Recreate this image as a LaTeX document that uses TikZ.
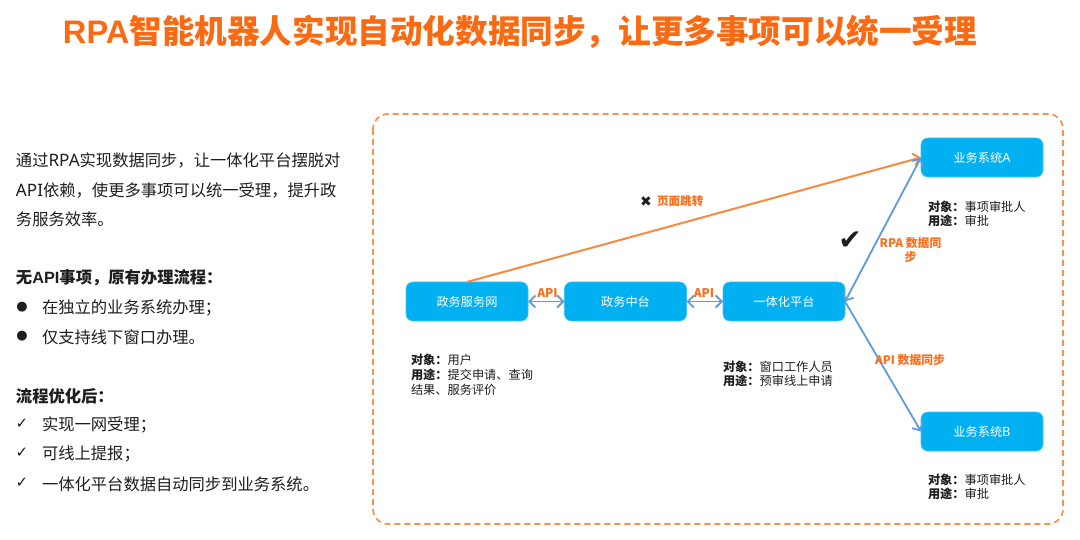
\documentclass[tikz,border=0pt]{standalone}
\usepackage{fontspec}
\setmainfont{Noto Sans CJK SC}
\newfontfamily\symfont{DejaVu Sans}
\newfontfamily\arialfont{Liberation Sans}
\newfontfamily\notolat[Scale=1.05]{Noto Sans}
\newcommand{\lat}[1]{{\notolat #1}}
\usetikzlibrary{arrows.meta}
\definecolor{titleor}{HTML}{FA6A12}
\definecolor{lblor}{HTML}{FA6F1E}
\definecolor{lineor}{HTML}{F58A42}
\definecolor{frameor}{HTML}{F7924E}
\definecolor{boxblue}{HTML}{00B0F0}
\definecolor{lineblue}{HTML}{5F9BD8}
\definecolor{ink}{HTML}{1E1E1E}
\tikzset{
  x=1pt,y=-1pt,
  every node/.style={inner sep=0pt,outer sep=0pt,text=ink},
  sysbox/.style={draw=boxblue!75!white,line width=0.6pt,fill=boxblue,rounded corners=7pt,minimum width=122pt,minimum height=39pt,text=white,font=\fontsize{12.2}{15}\selectfont},
  body/.style={anchor=west,font=\fontsize{16.3}{20}\selectfont},
  note/.style={anchor=north west,align=left,font=\fontsize{12.2}{15}\selectfont},
  tightnote/.style={note,font=\fontsize{12.2}{14}\selectfont},
  lbl/.style={text=lblor,font=\fontsize{12}{14}\selectfont\bfseries,align=center},
  marker/.style={anchor=center,font=\fontsize{13}{16}\symfont},
  checkmark/.style={anchor=center,font=\fontsize{15}{18}\symfont},
  bluearrow/.style={draw=lineblue,line width=1.8pt,{Straight Barb[length=6pt,width=12pt]}-{Straight Barb[length=6pt,width=12pt]}},
  bluearrowB/.style={draw=lineblue,line width=1.8pt,-{Straight Barb[length=6pt,width=12pt]}},
  orarrow/.style={draw=lineor,line width=2pt,-{Straight Barb[length=6pt,width=12pt]}},
}
\begin{document}
\begin{tikzpicture}
\useasboundingbox (0,0) rectangle (1080,540);
\fill[white] (0,0) rectangle (1080,540);
\node (title) [anchor=center,text=titleor,font=\fontsize{32.6}{36}\selectfont\bfseries] at (520,32) {{\arialfont RPA}智能机器人实现自动化数据同步，让更多事项可以统一受理};
\draw[frameor,line width=1.7pt,dash pattern=on 6pt off 4pt,rounded corners=15pt] (373,114) rectangle (1063,524);

\node (l1) [body] at (16,160) {通过\lat{RPA}实现数据同步，让一体化平台摆脱对};
\node (l2) [body] at (16,190) {\lat{API}依赖，使更多事项可以统一受理，提升政};
\node (l3) [body] at (16,219) {务服务效率。};
\node (h1) [body,font=\fontsize{16.3}{20}\selectfont\bfseries] at (16,278) {无{\arialfont API}事项，原有办理流程：};
\node (m1) [marker] at (22,307) {●};
\node (t1) [body] at (42,308) {在独立的业务系统办理；};
\node (m2) [marker] at (22,336) {●};
\node (t2) [body] at (42,337) {仅支持线下窗口办理。};
\node (h2) [body,font=\fontsize{16.3}{20}\selectfont\bfseries] at (16,396) {流程优化后：};
\node (m3) [checkmark] at (22,424) {✓};
\node (t3) [body] at (42,425) {实现一网受理；};
\node (m4) [checkmark] at (22,453) {✓};
\node (t4) [body] at (42,454) {可线上提报；};
\node (m5) [checkmark] at (22,483) {✓};
\node (t5) [body] at (42,484) {一体化平台数据自动同步到业务系统。};

\node (web) [sysbox] at (467,301.5) {政务服务网};
\node (mid) [sysbox] at (625.5,301.5) {政务中台};
\node (plat) [sysbox] at (784,301.5) {一体化平台};
\node (sysa) [sysbox] at (982,157.5) {业务系统\lat{A}};
\node (sysb) [sysbox] at (982,431.5) {业务系统\lat{B}};

\draw[orarrow] (web.north) -- (sysa.west);
\draw[bluearrow] (web.east) -- (mid.west);
\draw[bluearrow] (mid.east) -- (plat.west);
\draw[bluearrow] (plat.east) -- (sysa.west);
\draw[bluearrowB] (plat.east) -- (sysb.west);

\node (api1) [lbl] at (547.5,293) {API};
\node (api2) [lbl] at (704,293) {API};
\node (xm) [font=\fontsize{14}{14}\symfont] at (646,202) {✖};
\node (jump) [lbl,anchor=west,font=\fontsize{11.6}{14}\selectfont\bfseries] at (657,201) {页面跳转};
\node (ck) [font=\fontsize{28}{30}\symfont] at (850,241) {✔};
\node (rpa) [lbl,font=\fontsize{11.8}{13.5}\selectfont\bfseries] at (910.5,250) {RPA 数据同\\步};
\node (apis) [lbl,anchor=west,font=\fontsize{11.8}{14}\selectfont\bfseries] at (875,360) {API 数据同步};

\node (n1) [note] at (411,354.5) {\textbf{对象：}用户\\\textbf{用途：}提交申请、查询\\结果、服务评价};
\node (n2) [tightnote] at (723,361.5) {\textbf{对象：}窗口工作人员\\\textbf{用途：}预审线上申请};
\node (n3) [tightnote] at (928,201.5) {\textbf{对象：}事项审批人\\\textbf{用途：}审批};
\node (n4) [tightnote] at (928,474.5) {\textbf{对象：}事项审批人\\\textbf{用途：}审批};
\end{tikzpicture}
\end{document}
